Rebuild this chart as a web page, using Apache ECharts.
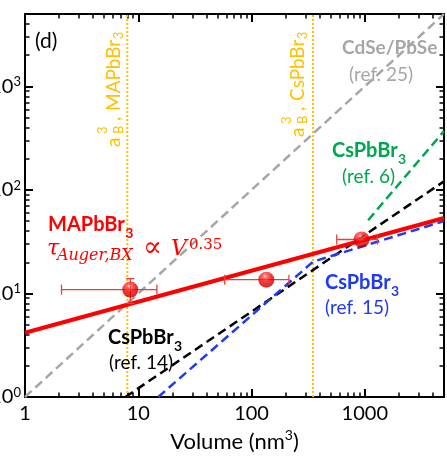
<!DOCTYPE html>
<html>
<head>
<meta charset="utf-8">
<script src="https://cdn.jsdelivr.net/npm/echarts@6/dist/echarts.min.js"></script>
<style>
  html, body { margin: 0; padding: 0; background: #fff; }
  #chart { width: 447px; height: 466px; }
</style>
</head>
<body>
<div id="chart"></div>
<script>
// Measured MAPbBr3 nanocrystals: volume (nm^3) and biexciton Auger lifetime
const dotVolume  = [8.5, 135, 935];
const dotTau     = [10.9, 13.6, 33.2];
const volumeLow  = [2.1, 58, 565];
const volumeHigh = [14.6, 214, 1295];
const tauLow     = [8.0, 13.6, 33.2];
const tauHigh    = [13.9, 13.6, 33.2];

// Power-law trends as [volume, lifetime] end points
const fitMAPbBr3    = [[1, 4.17], [5000, 53.6]];
const trendCdSePbSe = [[1, 1], [5000, 5000]];
const trendRef14    = [[7.7, 1], [5000, 121]];
const trendRef15    = [[15, 1], [350, 20.3], [5000, 50]];
const trendRef6     = [[1070, 51], [5000, 370]];

// Bohr exciton volumes a_B^3
const bohrMAPbBr3 = 8.0;
const bohrCsPbBr3 = 349;

// Axis ticks
const axisRange  = [1, 5000];
const majorTicks = [1, 10, 100, 1000];
const minorTicks = [2, 3, 4, 5, 6, 7, 8, 9,
                    20, 30, 40, 50, 60, 70, 80, 90,
                    200, 300, 400, 500, 600, 700, 800, 900,
                    2000, 3000, 4000];

const SANS  = 'Lato, "Open Sans", sans-serif';
const SERIF = '"DejaVu Serif", "Liberation Serif", serif';
const RED = '#FF0000', GOLD = '#FFC000', GRAY = '#A6A6A6',
      GREEN = '#00A650', BLUE = '#1F3AF0', BLACK = '#000000';

const measureCtx = document.createElement('canvas').getContext('2d');
function textWidth(str, font) { measureCtx.font = font; return measureCtx.measureText(str).width; }

function T(x, y, text, size, o) {
  o = o || {};
  return {
    type: 'text', x: x, y: y, z: 100, silent: true,
    style: {
      text: text, fill: o.color || BLACK, fontSize: size,
      fontFamily: o.family || SANS,
      fontWeight: o.bold ? 'bold' : 'normal',
      fontStyle: o.italic ? 'italic' : 'normal',
      align: 'left', verticalAlign: 'middle'
    }
  };
}

// Bold formula with subscript 3, e.g. CsPbBr3
function chem(x, y, main, color, size) {
  const w = textWidth(main, 'bold ' + size + 'px ' + SANS);
  return [T(x, y, main, size, { color, bold: true }),
          T(x + w + 0.5, y + 8, '3', 14, { color, bold: true })];
}

// Vertical "a_B^3, XPbBr_3" label reading bottom to top
function bohrLabel(x, y, name) {
  const size = 19;
  const w = textWidth(name, size + 'px ' + SANS);
  return {
    type: 'group', x: x, y: y, rotation: Math.PI / 2,
    children: [
      T(0, 0, 'a', size, { color: GOLD }),
      T(13, 5, 'B', 13, { color: GOLD }),
      T(13, -11, '3', 13, { color: GOLD }),
      T(26, 0, ',', size, { color: GOLD }),
      T(36, 0, name, size, { color: GOLD }),
      T(36 + w + 0.5, 5, '3', 13, { color: GOLD })
    ]
  };
}

function makeAxis(pos, major) {
  return {
    type: 'log', logBase: 10, min: axisRange[0], max: axisRange[1], position: pos,
    axisLine: { show: major, onZero: false, lineStyle: { color: BLACK, width: 2 } },
    splitLine: { show: false },
    axisTick: major
      ? { show: true, inside: true, length: 8, customValues: majorTicks, lineStyle: { color: BLACK, width: 2 } }
      : { show: true, inside: true, length: 4.5, customValues: minorTicks, lineStyle: { color: BLACK, width: 1.5 } },
    axisLabel: { show: false }
  };
}

const xBottom = makeAxis('bottom', true);
xBottom.axisLabel = {
  show: true, customValues: majorTicks, margin: 7, color: BLACK,
  fontSize: 20, fontFamily: SANS, formatter: v => String(v)
};
xBottom.name = '{n|Volume (nm}{s|3}{n|)}';
xBottom.nameLocation = 'middle';
xBottom.nameGap = 30;
xBottom.nameTextStyle = {
  rich: {
    n: { fontSize: 22, fontFamily: SANS, color: BLACK, lineHeight: 26 },
    s: { fontSize: 14, fontFamily: SANS, color: BLACK, lineHeight: 14, verticalAlign: 'top' }
  }
};

const yLeft = makeAxis('left', true);
yLeft.axisLabel = {
  show: true, customValues: majorTicks, margin: 4, color: BLACK,
  formatter: v => '{n|10}{s|' + Math.round(Math.log10(v)) + '}',
  rich: {
    n: { fontSize: 20, fontFamily: SANS, color: BLACK, lineHeight: 22 },
    s: { fontSize: 13, fontFamily: SANS, color: BLACK, lineHeight: 13, verticalAlign: 'top' }
  }
};

function trend(data, color, z) {
  return {
    type: 'line', data: data, symbol: 'none', silent: true, z: z || 2,
    lineStyle: { color: color, width: 2.5, type: [9, 5] }
  };
}
function bohrLine(v) {
  return {
    type: 'line', data: [[v, axisRange[0]], [v, axisRange[1]]], symbol: 'none', silent: true, z: 1,
    lineStyle: { color: GOLD, width: 2, type: [2, 2] }
  };
}

const errData = dotVolume.map((v, i) => [v, dotTau[i], volumeLow[i], volumeHigh[i], tauLow[i], tauHigh[i]]);

const chart = echarts.init(document.getElementById('chart'), null, { renderer: 'canvas' });
chart.setOption({
  animation: false,
  backgroundColor: '#fff',
  grid: { left: 25, right: 3, top: 14, bottom: 69, containLabel: false, outerBoundsMode: 'none' },
  xAxis: [xBottom, makeAxis('bottom', false), makeAxis('top', true), makeAxis('top', false)],
  yAxis: [yLeft, makeAxis('left', false), makeAxis('right', true), makeAxis('right', false)],
  series: [
    bohrLine(bohrMAPbBr3),
    bohrLine(bohrCsPbBr3),
    trend(trendCdSePbSe, GRAY),
    trend(trendRef14, BLACK),
    trend(trendRef15, BLUE),
    trend(trendRef6, GREEN),
    {
      type: 'line', data: fitMAPbBr3, symbol: 'none', silent: true, z: 4,
      lineStyle: { color: RED, width: 4 }
    },
    {
      type: 'custom', z: 5, silent: true, data: errData,
      renderItem: function (params, api) {
        const c = api.coord([api.value(0), api.value(1)]);
        const l = api.coord([api.value(2), api.value(1)]);
        const r = api.coord([api.value(3), api.value(1)]);
        const b = api.coord([api.value(0), api.value(4)]);
        const t = api.coord([api.value(0), api.value(5)]);
        const st = { stroke: '#EE3B3B', lineWidth: 1.3, fill: null };
        const kids = [
          { type: 'line', shape: { x1: l[0], y1: l[1], x2: r[0], y2: r[1] }, style: st },
          { type: 'line', shape: { x1: l[0], y1: l[1] - 5, x2: l[0], y2: l[1] + 5 }, style: st },
          { type: 'line', shape: { x1: r[0], y1: r[1] - 5, x2: r[0], y2: r[1] + 5 }, style: st }
        ];
        if (Math.abs(t[1] - b[1]) > 1) {
          kids.push({ type: 'line', shape: { x1: c[0], y1: b[1], x2: c[0], y2: t[1] }, style: st });
          kids.push({ type: 'line', shape: { x1: c[0] - 4, y1: t[1], x2: c[0] + 4, y2: t[1] }, style: st });
          kids.push({ type: 'line', shape: { x1: c[0] - 4, y1: b[1], x2: c[0] + 4, y2: b[1] }, style: st });
        }
        return { type: 'group', children: kids };
      }
    },
    {
      type: 'scatter', z: 6, silent: true, symbol: 'circle', symbolSize: 16,
      data: dotVolume.map((v, i) => [v, dotTau[i]]),
      itemStyle: {
        color: new echarts.graphic.RadialGradient(0.42, 0.28, 0.75, [
          { offset: 0, color: '#FFF0F0' },
          { offset: 0.15, color: '#FF5050' },
          { offset: 0.55, color: '#F50000' },
          { offset: 1, color: '#B00000' }
        ])
      }
    }
  ],
  graphic: [
    T(35, 41, '(d)', 21),
    bohrLabel(114, 147, 'MAPbBr'),
    bohrLabel(298, 137, 'CsPbBr'),
    T(342, 48, 'CdSe/PbSe', 19, { color: GRAY, bold: true }),
    T(349, 75, '(ref. 25)', 19, { color: GRAY }),
    ...chem(332, 151, 'CsPbBr', GREEN, 20),
    T(342, 177, '(ref. 6)', 19, { color: GREEN }),
    ...chem(48, 225, 'MAPbBr', RED, 20),
    T(47, 249, 'τ', 22, { color: RED, family: SERIF, italic: true }),
    T(57, 256, 'Auger,BX', 16, { color: RED, family: SERIF, italic: true }),
    T(143, 249, '∝', 28, { color: RED, family: SERIF }),
    T(171, 249, 'V', 22, { color: RED, family: SERIF, italic: true }),
    T(189, 245, '0.35', 15, { color: RED, family: SERIF }),
    ...chem(325, 283, 'CsPbBr', BLUE, 20),
    T(325, 308, '(ref. 15)', 19, { color: BLUE }),
    ...chem(108, 338, 'CsPbBr', BLACK, 20),
    T(109, 363, '(ref. 14)', 19, { color: BLACK })
  ]
});
</script>
</body>
</html>
